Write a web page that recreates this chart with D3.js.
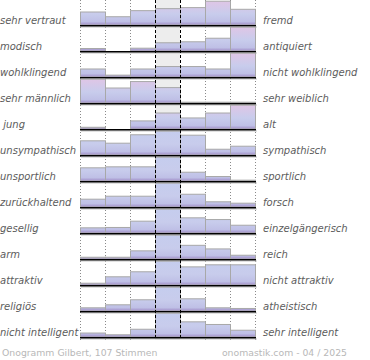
<!DOCTYPE html>
<html>
<head>
<meta charset="utf-8">
<script src="https://cdn.jsdelivr.net/npm/d3@7"></script>
<style>
	body { margin: 0; background: #fff; }
	svg { display: block; }
	text { font-family: "DejaVu Sans", Verdana, sans-serif; }
</style>
</head>
<body>
<main></main>
<script>
const leftLabels = ["sehr vertraut", "modisch", "wohlklingend", "sehr männlich", " jung", "unsympathisch", "unsportlich", "zurückhaltend", "gesellig", "arm", "attraktiv", "religiös", "nicht intelligent"];
const rightLabels = ["fremd", "antiquiert", "nicht wohlklingend", "sehr weiblich", "alt", "sympathisch", "sportlich", "forsch", "einzelgängerisch", "reich", "nicht attraktiv", "atheistisch", "sehr intelligent"];

// share of votes (%) for the 7 steps of every row
const votes = [
	[12.0, 7.8, 13.2, 15.0, 15.9, 21.6, 14.4],
	[4.8, 0, 5.3, 14.0, 15.6, 21.3, 39.0],
	[11.5, 3.2, 11.5, 14.8, 14.8, 11.5, 32.8],
	[29.8, 19.0, 26.9, 19.5, 1.6, 1.6, 1.6],
	[2.8, 0, 10.8, 20.7, 14.5, 20.7, 30.5],
	[13.6, 11.4, 19.2, 22.5, 18.8, 5.8, 8.6],
	[16.5, 17.7, 17.7, 29.3, 11.2, 6.0, 1.6],
	[10.6, 14.4, 14.4, 31.0, 16.9, 7.3, 5.5],
	[6.6, 7.0, 14.3, 28.2, 18.2, 16.2, 9.6],
	[3.4, 3.4, 13.0, 36.5, 21.3, 15.9, 6.4],
	[2.1, 8.0, 12.6, 22.3, 17.1, 19.0, 19.0],
	[5.6, 10.2, 17.8, 36.9, 19.3, 5.6, 4.6],
	[5.9, 3.6, 10.9, 32.1, 20.7, 17.2, 9.6],
];
// tone of the bar tops per row
const tones = ["pink", "pink", "pink", "pink", "pink", "blue", "blue", "blue", "blue", "blue", "blue", "blue", "blue"];
const steps = [0, 1, 2, 3, 4, 5, 6];
const footerLeft = "Onogramm Gilbert, 107 Stimmen";
const footerRight = "onomastik.com - 04 / 2025";

// Create dimensions
let dimensions = {
	width: 370,
	height: 360,
	plotLeft: 80,
	plotRight: 255,
	firstBase: 25,
	rowStep: 26,
	barMax: 24.3,
};

// Draw canvas
const svg = d3.select("main")
	.append("svg")
		.attr("width", dimensions.width)
		.attr("height", dimensions.height);

const defs = svg.append("defs");

// Create scales
const xScale = d3.scaleBand()
	.domain(steps)
	.range([dimensions.plotLeft, dimensions.plotRight])
	.paddingInner(0)
	.paddingOuter(0);

const rowScale = d3.scaleLinear()
	.domain([0, leftLabels.length - 1])
	.range([dimensions.firstBase, dimensions.firstBase + dimensions.rowStep * (leftLabels.length - 1)]);

const gridBottom = rowScale(leftLabels.length - 1) + 3;

// Centre column background
svg.append("rect")
	.attr("x", xScale(3))
	.attr("y", 0)
	.attr("width", xScale.bandwidth())
	.attr("height", gridBottom)
	.attr("fill", "#ededed");

// Dotted grid lines
const edges = d3.range(0, 8).map(i => dimensions.plotLeft + i * xScale.bandwidth());
svg.append("g")
	.selectAll("line")
	.data(edges.filter((d, i) => i !== 3 && i !== 4))
	.join("line")
		.attr("x1", d => d + 0.5)
		.attr("x2", d => d + 0.5)
		.attr("y1", 0)
		.attr("y2", gridBottom)
		.attr("stroke", "#8a8a8a")
		.attr("stroke-dasharray", "1,2");

// Gradients, one per row
const toneTop = { pink: "#e0c6e6", blue: "#c5cdee" };
leftLabels.forEach((d, i) => {
	const base = rowScale(i);
	const grad = defs.append("linearGradient")
		.attr("id", "grad" + i)
		.attr("gradientUnits", "userSpaceOnUse")
		.attr("x1", 0).attr("x2", 0)
		.attr("y1", base - dimensions.barMax)
		.attr("y2", base);
	grad.append("stop").attr("offset", "0%").attr("stop-color", toneTop[tones[i]]);
	grad.append("stop").attr("offset", "55%").attr("stop-color", "#c8ccec");
	grad.append("stop").attr("offset", "86%").attr("stop-color", "#bfc0e6");
	grad.append("stop").attr("offset", "94%").attr("stop-color", "#ada2d4");
	grad.append("stop").attr("offset", "100%").attr("stop-color", "#a192c8");
});

// Draw data
const rows = svg.append("g")
	.selectAll("g")
	.data(votes)
	.join("g");

rows.each(function(row, i) {
	const base = rowScale(i);
	const hScale = d3.scaleLinear()
		.domain([0, d3.max(row)])
		.range([0, dimensions.barMax]);
	const g = d3.select(this);

	g.selectAll("rect")
		.data(row.map((v, j) => ({ v, j })).filter(d => d.v > 0))
		.join("rect")
			.attr("x", d => xScale(d.j) + 0.5)
			.attr("y", d => base - hScale(d.v) + 0.5)
			.attr("width", xScale.bandwidth())
			.attr("height", d => Math.max(hScale(d.v) - 0.5, 0))
			.attr("fill", `url(#grad${i})`)
			.attr("stroke", "#a8a8a8")
			.attr("stroke-width", 1);

	// shadow + baseline
	g.append("line")
		.attr("x1", dimensions.plotLeft + 1)
		.attr("x2", dimensions.plotRight + 2)
		.attr("y1", base + 2)
		.attr("y2", base + 2)
		.attr("stroke", "#c4c4c4")
		.attr("stroke-width", 1);
	g.append("line")
		.attr("x1", dimensions.plotLeft)
		.attr("x2", dimensions.plotRight + 1)
		.attr("y1", base + 0.75)
		.attr("y2", base + 0.75)
		.attr("stroke", "#000")
		.attr("stroke-width", 1.5);
});

// Dashed centre lines
svg.append("g")
	.selectAll("line")
	.data([edges[3], edges[4]])
	.join("line")
		.attr("x1", d => d + 0.5)
		.attr("x2", d => d + 0.5)
		.attr("y1", 0)
		.attr("y2", gridBottom)
		.attr("stroke", "#000")
		.attr("stroke-dasharray", "3,2");

// Draw peripherals
svg.append("g")
	.selectAll("text")
	.data(leftLabels)
	.join("text")
		.attr("x", 0)
		.attr("y", (d, i) => rowScale(i) - 1)
		.attr("font-size", 10)
		.attr("font-style", "italic")
		.attr("fill", "#5c5c5c")
		.style("white-space", "pre")
		.text(d => d);

svg.append("g")
	.selectAll("text")
	.data(rightLabels)
	.join("text")
		.attr("x", 263)
		.attr("y", (d, i) => rowScale(i) - 1)
		.attr("font-size", 10)
		.attr("font-style", "italic")
		.attr("fill", "#5c5c5c")
		.text(d => d);

svg.append("text")
	.attr("x", 2)
	.attr("y", 355.5)
	.attr("font-size", 9.3)
	.attr("fill", "#b8b8b8")
	.text(footerLeft);

svg.append("text")
	.attr("x", 347)
	.attr("y", 355.5)
	.attr("text-anchor", "end")
	.attr("font-size", 9.3)
	.attr("fill", "#b8b8b8")
	.text(footerRight);
</script>
</body>
</html>
